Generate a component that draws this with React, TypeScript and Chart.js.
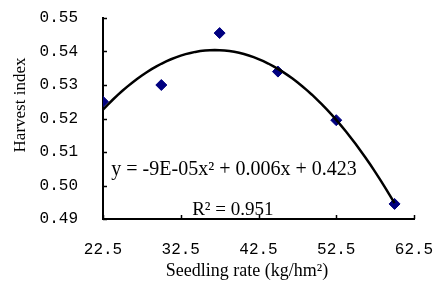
import React, { useEffect, useRef } from "react";
import { Chart, registerables } from "chart.js";

Chart.register(...registerables);

const seedlingRates = [22.5, 30, 37.5, 45, 52.5, 60];
const harvestIndex = [0.525, 0.53, 0.5455, 0.534, 0.5195, 0.4945];
const xTicks = [22.5, 32.5, 42.5, 52.5, 62.5];
const xTickLabels = ["22.5", "32.5", "42.5", "52.5", "62.5"];
const yTicks = [0.49, 0.5, 0.51, 0.52, 0.53, 0.54, 0.55];
const xTitle = "Seedling rate (kg/hm\u00b2)";
const yTitle = "Harvest index";
const equationText = "y = -9E-05x\u00b2 + 0.006x + 0.423";
const r2Text = "R\u00b2 = 0.951";

// least-squares quadratic fit of the data (Excel polynomial trendline)
function quadFit(xs: number[], ys: number[]) {
  const n = xs.length;
  let s0 = n, s1 = 0, s2 = 0, s3 = 0, s4 = 0, t0 = 0, t1 = 0, t2 = 0;
  for (let i = 0; i < n; i++) {
    const x = xs[i], y = ys[i];
    s1 += x; s2 += x * x; s3 += x * x * x; s4 += x * x * x * x;
    t0 += y; t1 += x * y; t2 += x * x * y;
  }
  const M = [
    [s4, s3, s2, t2],
    [s3, s2, s1, t1],
    [s2, s1, s0, t0],
  ];
  for (let c = 0; c < 3; c++) {
    for (let r = c + 1; r < 3; r++) {
      const f = M[r][c] / M[c][c];
      for (let k = c; k < 4; k++) M[r][k] -= f * M[c][k];
    }
  }
  const sol = [0, 0, 0];
  for (let r = 2; r >= 0; r--) {
    let v = M[r][3];
    for (let k = r + 1; k < 3; k++) v -= M[r][k] * sol[k];
    sol[r] = v / M[r][r];
  }
  return sol; // a, b, c
}

export default function App() {
  const ref = useRef<HTMLCanvasElement | null>(null);
  useEffect(() => {
    document.body.style.margin = "0";
    const [a, b, c] = quadFit(seedlingRates, harvestIndex);
    const x0 = seedlingRates[0];
    const x1 = seedlingRates[seedlingRates.length - 1];
    const trend: { x: number; y: number }[] = [];
    const N = 60;
    for (let i = 0; i <= N; i++) {
      const x = x0 + ((x1 - x0) * i) / N;
      trend.push({ x, y: a * x * x + b * x + c });
    }

    const inwardTicks = {
      id: "inwardTicks",
      afterDraw(chart: any) {
        const ctx = chart.ctx;
        const xs = chart.scales.x;
        const ys = chart.scales.y;
        const area = chart.chartArea;
        ctx.save();
        ctx.strokeStyle = "#000";
        ctx.lineWidth = 1.5;
        ctx.beginPath();
        for (const t of xTicks) {
          const px = Math.round(xs.getPixelForValue(t)) + 0.5;
          ctx.moveTo(px, area.bottom);
          ctx.lineTo(px, area.bottom - 4);
        }
        for (const t of yTicks) {
          const py = Math.round(ys.getPixelForValue(t)) + 0.5;
          ctx.moveTo(area.left, py);
          ctx.lineTo(area.left + 4, py);
        }
        ctx.stroke();
        ctx.fillStyle = "#000";
        ctx.textAlign = "center";
        ctx.textBaseline = "middle";
        // annotations
        ctx.font = "20px 'Liberation Serif'";
        ctx.fillText(equationText, xs.getPixelForValue(39.35), ys.getPixelForValue(0.5046));
        ctx.font = "19px 'Liberation Serif'";
        ctx.fillText(r2Text, xs.getPixelForValue(39.2), ys.getPixelForValue(0.4927));
        // axis titles
        ctx.font = "18px 'Liberation Serif'";
        ctx.fillText(xTitle, 247, 271);
        ctx.save();
        ctx.translate(21, 105);
        ctx.rotate(-Math.PI / 2);
        ctx.font = "17px 'Liberation Serif'";
        ctx.fillText(yTitle, 0, 0);
        ctx.restore();
        ctx.restore();
      },
    };

    const chart = new Chart(ref.current as HTMLCanvasElement, {
      type: "scatter",
      data: {
        datasets: [
          {
            type: "line",
            data: trend,
            borderColor: "#000",
            borderWidth: 2.5,
            pointRadius: 0,
            tension: 0,
            fill: false,
          } as any,
          {
            data: seedlingRates.map((x, i) => ({ x, y: harvestIndex[i] })),
            backgroundColor: "#000080",
            borderColor: "#000080",
            pointStyle: "rectRot",
            pointRadius: 5.5,
            pointHoverRadius: 5.5,
          },
        ],
      },
      options: {
        animation: false,
        responsive: false,
        maintainAspectRatio: false,
        layout: { padding: { left: 0, right: 23, top: 18, bottom: 0 } },
        plugins: { legend: { display: false }, tooltip: { enabled: false } },
        scales: {
          x: {
            type: "linear",
            min: 22.5,
            max: 62.5,
            afterBuildTicks: (s: any) => {
              s.ticks = xTicks.map((v) => ({ value: v }));
            },
            afterFit: (s: any) => {
              s.height = 63;
              s.paddingLeft = 0;
              s.paddingRight = 0;
            },
            ticks: {
              callback: (v: any) => {
                const i = xTicks.indexOf(Number(v));
                return i >= 0 ? xTickLabels[i] : "";
              },
              font: { family: "'Liberation Mono'", size: 16 },
              color: "#000",
              padding: 21,
              maxRotation: 0,
            },
            grid: { display: false, drawTicks: false },
            border: { display: true, color: "#000", width: 2 },
            title: { display: false },
          },
          y: {
            type: "linear",
            min: 0.49,
            max: 0.55,
            afterBuildTicks: (s: any) => {
              s.ticks = yTicks.map((v) => ({ value: v }));
            },
            afterFit: (s: any) => {
              s.width = 103;
              s.paddingTop = 0;
              s.paddingBottom = 0;
            },
            ticks: {
              callback: (v: any) => Number(v).toFixed(2),
              font: { family: "'Liberation Mono'", size: 16 },
              color: "#000",
              padding: 25,
            },
            grid: { display: false, drawTicks: false },
            border: { display: true, color: "#000", width: 2 },
            title: { display: false },
          },
        },
      },
      plugins: [inwardTicks],
    });
    return () => chart.destroy();
  }, []);
  return <canvas ref={ref} width={437} height={282} style={{ display: "block" }} />;
}
